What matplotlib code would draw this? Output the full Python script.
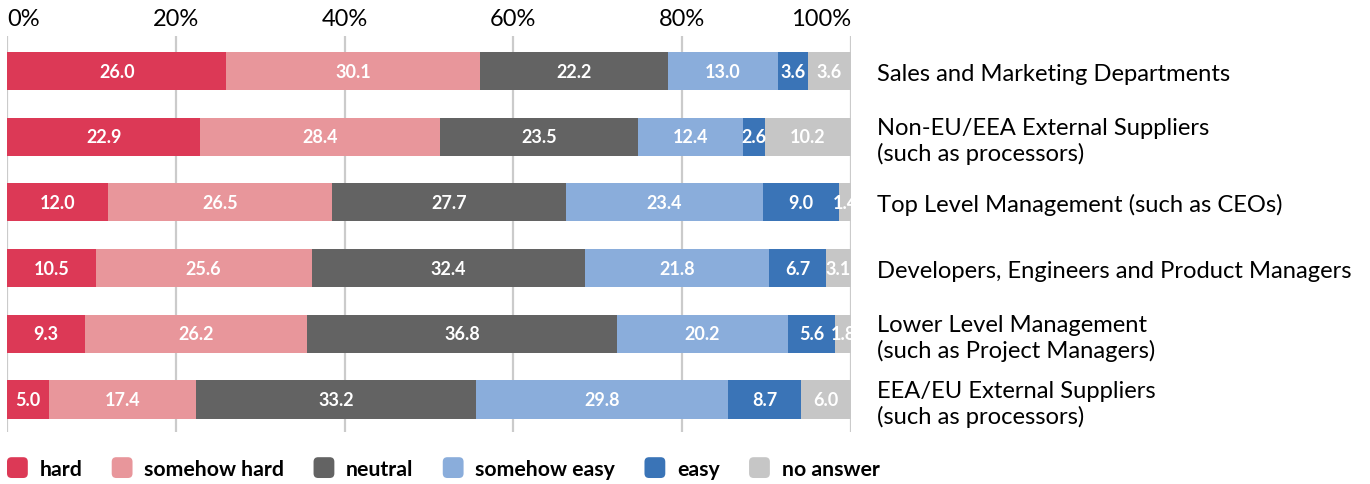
from __future__ import annotations

import matplotlib

matplotlib.use("Agg")
import matplotlib.pyplot as plt
from matplotlib.legend_handler import HandlerPatch
from matplotlib.patches import FancyBboxPatch, Patch

# rows, top to bottom
categories = [
    "Sales and Marketing Departments",
    "Non-EU/EEA External Suppliers\n(such as processors)",
    "Top Level Management (such as CEOs)",
    "Developers, Engineers and Product Managers",
    "Lower Level Management\n(such as Project Managers)",
    "EEA/EU External Suppliers\n(such as processors)",
]
series_names = ["hard", "somehow hard", "neutral", "somehow easy", "easy", "no answer"]
hard = [26.0, 22.9, 12.0, 10.5, 9.3, 5.0]
somehow_hard = [30.1, 28.4, 26.5, 25.6, 26.2, 17.4]
neutral = [22.2, 23.5, 27.7, 32.4, 36.8, 33.2]
somehow_easy = [13.0, 12.4, 23.4, 21.8, 20.2, 29.8]
easy = [3.6, 2.6, 9.0, 6.7, 5.6, 8.7]
no_answer = [3.6, 10.2, 1.4, 3.1, 1.8, 6.0]
tick_values = [0, 20, 40, 60, 80, 100]
tick_labels = ["0%", "20%", "40%", "60%", "80%", "100%"]

colors = ["#dc3956", "#e8969b", "#636363", "#8aaddb", "#3a74b7", "#c6c6c6"]

W, H = 1370, 485


class RoundedBoxHandler(HandlerPatch):
    def create_artists(self, legend, orig_handle, xdescent, ydescent, width, height, fontsize, trans):
        size = min(width, height)
        box = FancyBboxPatch(
            (-xdescent, -ydescent + (height - size) / 2),
            size,
            size,
            boxstyle=f"round,pad=0,rounding_size={size * 0.22}",
            facecolor=orig_handle.get_facecolor(),
            edgecolor="none",
            transform=trans,
        )
        return [box]


def main() -> None:
    plt.rcParams["font.family"] = ["Lato", "DejaVu Sans"]
    fig = plt.figure(figsize=(W / 100, H / 100), dpi=100)
    ax = fig.add_axes([7 / W, 1 - 433 / H, 844 / W, 396 / H])

    series = [hard, somehow_hard, neutral, somehow_easy, easy, no_answer]
    ys = list(range(len(categories)))
    left = [0.0] * len(categories)
    for name, values, color in zip(series_names, series, colors):
        if name == "no answer":
            # last segment fills the rest of the bar
            widths = [100 - l for l in left]
        else:
            widths = values
        ax.barh(ys, widths, left=left, height=0.58, color=color, zorder=2, label=name)
        for y, l, w, v in zip(ys, left, widths, values):
            ax.text(l + w / 2, y, f"{v:.1f}", ha="center", va="center", color="white",
                    fontsize=13, fontweight="bold", zorder=3)
        left = [l + w for l, w in zip(left, widths)]

    ax.set_xlim(0, 100)
    ax.set_ylim(5.495, -0.533)
    for x in tick_values:
        ax.axvline(x, color="#cbcbcb", linewidth=1.6, zorder=1)

    ax.xaxis.tick_top()
    ax.set_xticks(tick_values)
    ax.set_xticklabels(tick_labels, fontsize=17)
    ax.tick_params(axis="x", length=0, pad=5)
    labels = ax.get_xticklabels()
    labels[0].set_horizontalalignment("left")
    labels[-1].set_horizontalalignment("right")

    ax.yaxis.tick_right()
    ax.set_yticks(ys)
    ax.set_yticklabels(categories, fontsize=17.1)
    ax.tick_params(axis="y", length=0, pad=19)
    for spine in ax.spines.values():
        spine.set_visible(False)

    handles = [Patch(facecolor=c, label=n) for c, n in zip(colors, series_names)]
    fig.legend(
        handles=handles,
        loc="center left",
        bbox_to_anchor=(7 / W, 1 - 469 / H),
        ncol=6,
        frameon=False,
        borderpad=0,
        borderaxespad=0,
        prop={"size": 15.3, "weight": "bold"},
        handlelength=1.13,
        handleheight=1.13,
        handletextpad=0.4,
        columnspacing=1.38,
        handler_map={Patch: RoundedBoxHandler()},
    )

    fig.savefig("out.png", dpi=100)
    plt.close(fig)


if __name__ == "__main__":
    main()
